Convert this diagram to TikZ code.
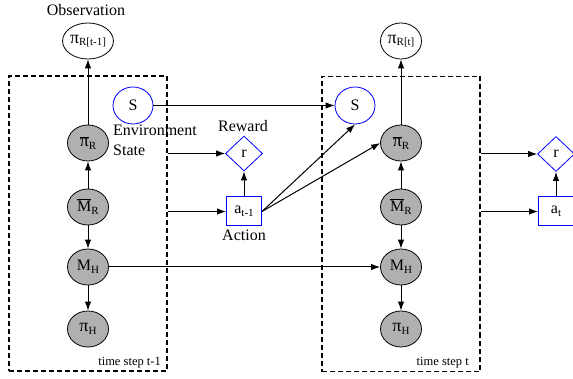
\documentclass[tikz,border=0pt]{standalone}
\usepackage{fontspec}
\setmainfont{Liberation Serif}
\usetikzlibrary{shapes.geometric,arrows.meta}
\definecolor{nodegray}{RGB}{176,176,176}
\newcommand\sbs[1]{\raisebox{-0.35ex}{\fontsize{11}{11}\selectfont #1}}
\newcommand\ovl[1]{\leavevmode\vbox{\hrule height 0.7pt\kern1.3pt\hbox{#1}}}
\newcommand\mypi{{\fontsize{18}{18}\selectfont π}}
\begin{document}
\begin{tikzpicture}[x=1pt,y=-1pt,
  var/.style={ellipse, draw, line width=0.8pt, fill=nodegray, minimum width=41pt, minimum height=36pt, inner sep=0pt, font=\fontsize{16}{16}\selectfont},
  obs/.style={var, fill=white},
  st/.style={ellipse, draw=blue, line width=0.8pt, minimum width=40pt, minimum height=37pt, inner sep=0pt, font=\fontsize{16}{16}\selectfont},
  rew/.style={diamond, draw=blue, line width=0.8pt, minimum width=37pt, minimum height=35pt, inner sep=0pt, font=\fontsize{16}{16}\selectfont},
  act/.style={rectangle, draw=blue, line width=1pt, minimum width=35pt, minimum height=29pt, inner sep=0pt, font=\fontsize{16}{16}\selectfont},
  arr/.style={-{Latex[length=9pt,width=6.5pt]}, line width=1pt},
  frame/.style={draw, dash pattern=on 5pt off 3pt, line width=1.1pt, minimum width=158pt, minimum height=295pt, inner sep=0pt},
  lbl/.style={font=\fontsize{16}{16}\selectfont, inner sep=0pt},
  small/.style={font=\fontsize{12.5}{12.5}\selectfont, inner sep=0pt}]
\useasboundingbox (0,0) rectangle (573,379);
% frames
\node[frame] (frameL) at (88,223.5) {};
\node[frame] (frameR) at (401,224) {};
% left column
\node[obs] (oL) at (88,41) {\mypi\sbs{R[t-1]}};
\node[var] (pbL) at (88,143) {\ovl{\mypi}\sbs{R}};
\node[var] (mbL) at (88,207) {\ovl{M}\sbs{R}};
\node[var] (mhL) at (88,267) {M\sbs{H}};
\node[var] (phL) at (88,329) {\mypi\sbs{H}};
% right column
\node[obs] (oR) at (401,41) {\mypi\sbs{R[t]}};
\node[var] (pbR) at (401,143) {\ovl{\mypi}\sbs{R}};
\node[var] (mbR) at (401,207) {\ovl{M}\sbs{R}};
\node[var] (mhR) at (401,267) {M\sbs{H}};
\node[var] (phR) at (401,329) {\mypi\sbs{H}};
% states, rewards, actions
\node[st] (SL) at (133,105.5) {S};
\node[st] (SR) at (355,105.5) {S};
\node[rew] (rL) at (244,153.5) {r};
\node[act] (aL) at (244,211.5) {a\sbs{t-1}};
\node[rew] (rR) at (556,154) {r};
\node[act] (aR) at (556,211.5) {a\sbs{t}};
% labels
\node[lbl] (lobs) at (86,10) {Observation};
\node[lbl, anchor=base west] (lenv) at (113,136) {Environment};
\node[lbl, anchor=base west] (lstate) at (113,156) {State};
\node[lbl] (lrew) at (243,126) {Reward};
\node[lbl] (lact) at (244,235) {Action};
\node[small, anchor=base east] (tsL) at (161,365) {time step t-1};
\node[small, anchor=base east] (tsR) at (469,365) {time step t};
% connectors left column
\draw[arr] (pbL) -- (oL);
\draw[arr] (mbL) -- (pbL);
\draw[arr] (mbL) -- (mhL);
\draw[arr] (mhL) -- (phL);
% right column
\draw[arr] (pbR) -- (oR);
\draw[arr] (mbR) -- (pbR);
\draw[arr] (mbR) -- (mhR);
\draw[arr] (mhR) -- (phR);
% cross connectors
\draw[arr] (SL) -- (SR);
\draw[arr] (frameL.east |- rL) -- (rL);
\draw[arr] (frameL.east |- aL) -- (aL);
\draw[arr] (aL) -- (rL);
\draw[arr] (aL.east) -- (SR.south);
\draw[arr] (aL.east) -- (pbR.west);
\draw[arr] (mhL) -- (mhR);
\draw[arr] (frameR.east |- rR) -- (rR);
\draw[arr] (frameR.east |- aR) -- (aR);
\draw[arr] (aR) -- (rR);
\end{tikzpicture}
\end{document}
